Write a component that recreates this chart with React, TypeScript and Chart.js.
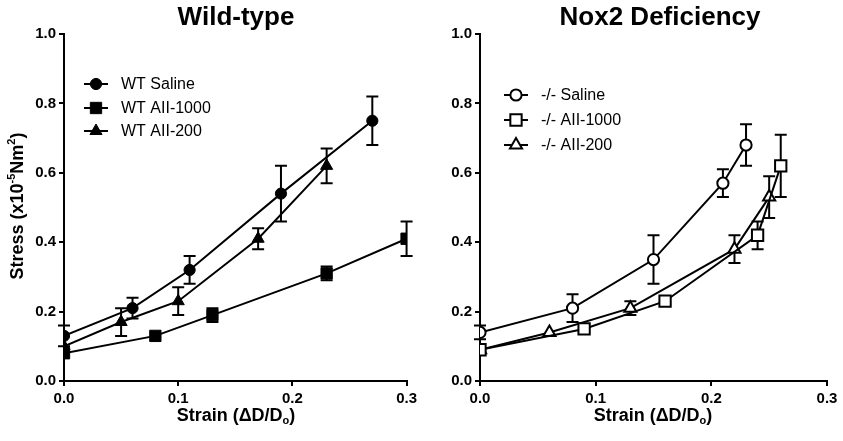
import { useEffect, useRef } from "react"
import { Chart, registerables, type ChartConfiguration, type Plugin } from "chart.js"

Chart.register(...registerables)

const FONT = "'Liberation Sans', Arial, Helvetica, sans-serif"

// Wild-type panel
const wtSalineX = [0, 0.06, 0.11, 0.19, 0.27]
const wtSalineY = [0.13, 0.21, 0.32, 0.54, 0.75]
const wtSalineErr = [0.03, 0.03, 0.04, 0.08, 0.07]

const wt1000X = [0, 0.08, 0.13, 0.23, 0.3]
const wt1000Y = [0.08, 0.13, 0.19, 0.31, 0.41]
const wt1000Err = [0, 0, 0.02, 0.02, 0.05]

const wt200X = [0, 0.05, 0.1, 0.17, 0.23]
const wt200Y = [0.1, 0.17, 0.23, 0.41, 0.62]
const wt200Err = [0, 0.04, 0.04, 0.03, 0.05]

// Nox2 deficiency panel
const koSalineX = [0, 0.08, 0.15, 0.21, 0.23]
const koSalineY = [0.14, 0.21, 0.35, 0.57, 0.68]
const koSalineErr = [0.02, 0.04, 0.07, 0.04, 0.06]

const ko1000X = [0, 0.09, 0.16, 0.24, 0.26]
const ko1000Y = [0.09, 0.15, 0.23, 0.42, 0.62]
const ko1000Err = [0, 0, 0.01, 0.04, 0.09]

const ko200X = [0, 0.06, 0.13, 0.22, 0.25]
const ko200Y = [0.09, 0.14, 0.21, 0.38, 0.53]
const ko200Err = [0, 0, 0.02, 0.04, 0.06]

const xTicks = [0, 0.1, 0.2, 0.3]
const yTicks = [0, 0.2, 0.4, 0.6, 0.8, 1.0]

type Seg = { t: string; k?: "sup" | "sub" }

function drawRich(ctx: CanvasRenderingContext2D, segs: Seg[], cx: number, cy: number, size: number, rotate: boolean) {
  ctx.save()
  ctx.translate(cx, cy)
  if (rotate) ctx.rotate(-Math.PI / 2)
  ctx.fillStyle = "#000"
  ctx.textBaseline = "middle"
  ctx.textAlign = "left"
  const fontFor = (s: Seg) => `bold ${s.k ? Math.round(size * 0.62) : size}px ${FONT}`
  let total = 0
  for (const s of segs) {
    ctx.font = fontFor(s)
    total += ctx.measureText(s.t).width
  }
  let x = -total / 2
  for (const s of segs) {
    ctx.font = fontFor(s)
    const dy = s.k === "sup" ? -size * 0.35 : s.k === "sub" ? size * 0.3 : 0
    ctx.fillText(s.t, x, dy)
    x += ctx.measureText(s.t).width
  }
  ctx.restore()
}

type Series = { label: string; xs: number[]; ys: number[]; err: number[]; style: "circle" | "rect" | "triangle"; open: boolean }

type Panel = {
  title: string
  titleX: number
  series: Series[]
  yTitle: boolean
  yWidth: number
  padRight: number
  xTitleX: number
  legend: { markX: number; textX: number; ys: number[] }
}

const radiusFor = (style: string) => (style === "rect" ? 8 : style === "triangle" ? 7 : 5.6)

// same shapes as Chart.js point styles, for the legend
function drawMarker(ctx: CanvasRenderingContext2D, style: string, r: number, x: number, y: number) {
  ctx.beginPath()
  if (style === "circle") {
    ctx.arc(x, y, r, 0, Math.PI * 2)
  } else if (style === "rect") {
    const s = Math.SQRT1_2 * r
    ctx.rect(x - s, y - s, 2 * s, 2 * s)
  } else {
    const a = Math.PI / 2
    for (let k = 0; k < 3; k++) {
      const ang = -a + (k * 2 * Math.PI) / 3
      const px = x + Math.cos(ang) * r
      const py = y + Math.sin(ang) * r
      if (k === 0) ctx.moveTo(px, py)
      else ctx.lineTo(px, py)
    }
    ctx.closePath()
  }
  ctx.fill()
  ctx.stroke()
}

function makeConfig(p: Panel): ChartConfiguration<"line"> {
  const decor: Plugin<"line"> = {
    id: "decor",
    beforeDatasetsDraw(chart) {
      const ctx = chart.ctx
      const xs = chart.scales.x
      const ys = chart.scales.y
      ctx.save()
      ctx.strokeStyle = "#000"
      ctx.lineWidth = 2
      p.series.forEach((s) => {
        s.xs.forEach((xv, i) => {
          const e = s.err[i]
          if (!e) return
          const px = xs.getPixelForValue(xv)
          const top = ys.getPixelForValue(s.ys[i] + e)
          const bot = ys.getPixelForValue(s.ys[i] - e)
          ctx.beginPath()
          ctx.moveTo(px, top)
          ctx.lineTo(px, bot)
          ctx.moveTo(px - 6, top)
          ctx.lineTo(px + 6, top)
          ctx.moveTo(px - 6, bot)
          ctx.lineTo(px + 6, bot)
          ctx.stroke()
        })
      })
      ctx.restore()
    },
    afterDraw(chart) {
      const ctx = chart.ctx
      // panel title
      ctx.save()
      ctx.fillStyle = "#000"
      ctx.font = `bold 26px ${FONT}`
      ctx.textAlign = "center"
      ctx.textBaseline = "middle"
      ctx.fillText(p.title, p.titleX, 18)
      ctx.restore()
      // axis titles
      drawRich(ctx, [{ t: "Strain (\u0394D/D" }, { t: "o", k: "sub" }, { t: ")" }], p.xTitleX, 416, 18, false)
      if (p.yTitle) {
        drawRich(
          ctx,
          [{ t: "Stress (x10" }, { t: "-5", k: "sup" }, { t: "Nm" }, { t: "2", k: "sup" }, { t: ")" }],
          18,
          206,
          18,
          true
        )
      }
      // legend
      const lg = p.legend
      p.series.forEach((s, i) => {
        const y = lg.ys[i]
        ctx.save()
        ctx.strokeStyle = "#000"
        ctx.lineWidth = 2
        ctx.beginPath()
        ctx.moveTo(lg.markX - 12, y)
        ctx.lineTo(lg.markX + 12, y)
        ctx.stroke()
        ctx.fillStyle = s.open ? "#fff" : "#000"
        ctx.lineWidth = s.open ? 2 : 1
        drawMarker(ctx, s.style, radiusFor(s.style), lg.markX, y)
        ctx.fillStyle = "#000"
        ctx.font = `16px ${FONT}`
        ctx.textAlign = "left"
        ctx.textBaseline = "middle"
        ctx.fillText(s.label, lg.textX, y + 1)
        ctx.restore()
      })
    },
  }

  return {
    type: "line",
    data: {
      datasets: p.series.map((s) => ({
        label: s.label,
        data: s.xs.map((x, i) => ({ x, y: s.ys[i] })),
        borderColor: "#000",
        borderWidth: 2,
        pointStyle: s.style,
        pointRadius: radiusFor(s.style),
        pointBackgroundColor: s.open ? "#fff" : "#000",
        pointBorderColor: "#000",
        pointBorderWidth: s.open ? 2 : 1,
        tension: 0,
      })),
    },
    options: {
      responsive: true,
      maintainAspectRatio: false,
      animation: false,
      layout: { padding: { top: 34, right: p.padRight, left: 0, bottom: 0 } },
      plugins: { legend: { display: false }, tooltip: { enabled: false }, title: { display: false } },
      scales: {
        x: {
          type: "linear",
          min: 0,
          max: 0.3,
          afterBuildTicks: (scale) => {
            scale.ticks = xTicks.map((v) => ({ value: v }))
          },
          afterFit: (scale) => {
            scale.height = 60
          },
          border: { display: true, color: "#000", width: 2 },
          grid: { display: true, drawOnChartArea: false, drawTicks: true, tickLength: 5, color: "#000", lineWidth: 2 },
          ticks: {
            color: "#000",
            font: { family: FONT, size: 15, weight: "bold" },
            padding: 4,
            maxRotation: 0,
            callback: (v) => Number(v).toFixed(1),
          },
        },
        y: {
          type: "linear",
          min: 0,
          max: 1,
          afterBuildTicks: (scale) => {
            scale.ticks = yTicks.map((v) => ({ value: v }))
          },
          afterFit: (scale) => {
            scale.width = p.yWidth
          },
          border: { display: true, color: "#000", width: 2 },
          grid: { display: true, drawOnChartArea: false, drawTicks: true, tickLength: 5, color: "#000", lineWidth: 2 },
          ticks: {
            color: "#000",
            font: { family: FONT, size: 15, weight: "bold" },
            padding: 3,
            callback: (v) => Number(v).toFixed(1),
          },
        },
      },
    },
    plugins: [decor],
  }
}

const panels: Panel[] = [
  {
    title: "Wild-type",
    titleX: 236,
    yTitle: true,
    yWidth: 64,
    padRight: 10,
    xTitleX: 236,
    legend: { markX: 96, textX: 121, ys: [84, 108, 131] },
    series: [
      { label: "WT Saline", xs: wtSalineX, ys: wtSalineY, err: wtSalineErr, style: "circle", open: false },
      { label: "WT AII-1000", xs: wt1000X, ys: wt1000Y, err: wt1000Err, style: "rect", open: false },
      { label: "WT AII-200", xs: wt200X, ys: wt200Y, err: wt200Err, style: "triangle", open: false },
    ],
  },
  {
    title: "Nox2 Deficiency",
    titleX: 239,
    yTitle: false,
    yWidth: 59,
    padRight: 16,
    xTitleX: 232,
    legend: { markX: 95, textX: 120, ys: [95, 120, 145] },
    series: [
      { label: "-/- Saline", xs: koSalineX, ys: koSalineY, err: koSalineErr, style: "circle", open: true },
      { label: "-/- AII-1000", xs: ko1000X, ys: ko1000Y, err: ko1000Err, style: "rect", open: true },
      { label: "-/- AII-200", xs: ko200X, ys: ko200Y, err: ko200Err, style: "triangle", open: true },
    ],
  },
]

function PanelChart({ panel, width }: { panel: Panel; width: number }) {
  const ref = useRef<HTMLCanvasElement>(null)
  const inst = useRef<Chart<"line"> | null>(null)

  useEffect(() => {
    if (!ref.current) return
    if (inst.current) inst.current.destroy()
    inst.current = new Chart(ref.current, makeConfig(panel))
    return () => {
      if (inst.current) inst.current.destroy()
      inst.current = null
    }
  }, [panel])

  return (
    <div style={{ position: "relative", width, height: 441 }}>
      <canvas ref={ref} />
    </div>
  )
}

export default function App() {
  return (
    <div style={{ position: "fixed", left: 0, top: 0, width: 843, height: 441, background: "#fff", display: "flex" }}>
      <PanelChart panel={panels[0]} width={421} />
      <PanelChart panel={panels[1]} width={422} />
    </div>
  )
}
